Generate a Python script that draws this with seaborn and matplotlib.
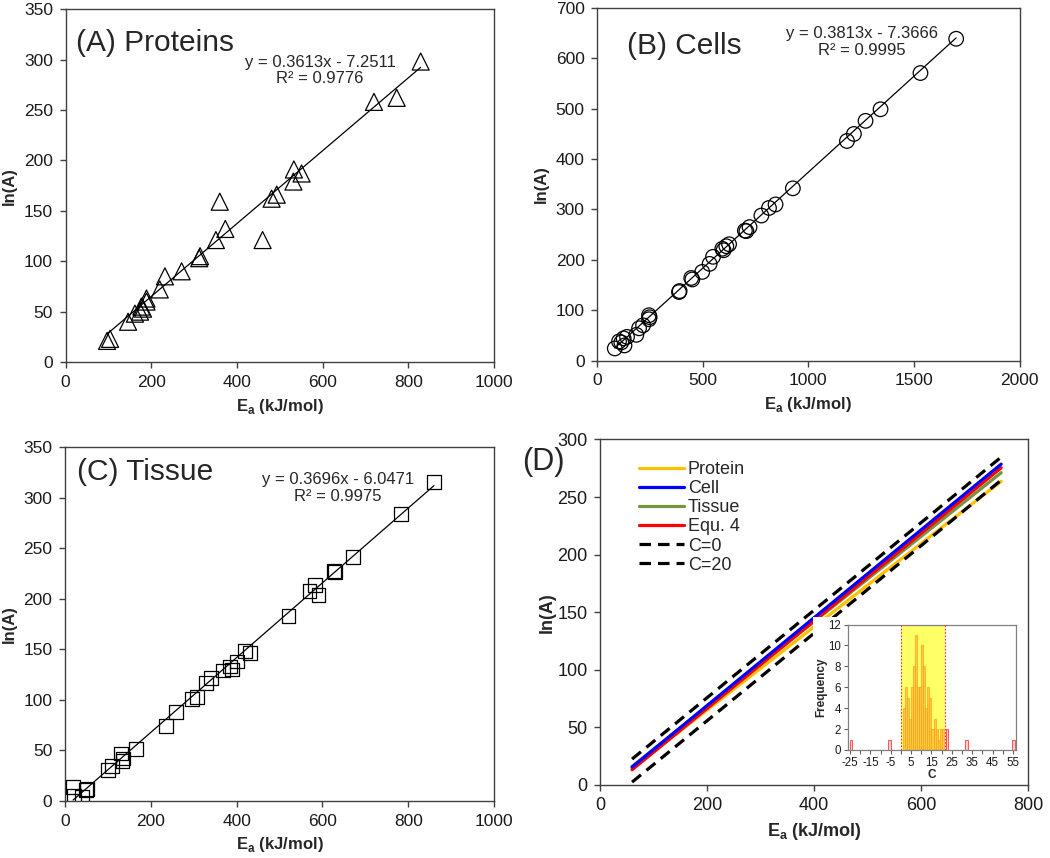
import matplotlib
matplotlib.use("Agg")
import matplotlib.pyplot as plt
import seaborn as sns
import numpy as np
from matplotlib.patches import Rectangle

# ---- (A) proteins ----
protein_ea = [97, 104, 146, 162, 174, 177, 181, 189, 189, 220, 232, 271, 312, 314,
              351, 360, 373, 460, 481, 493, 532, 533, 551, 720, 773, 829]
protein_lnA = [21, 23, 40, 48, 50, 55, 53, 60, 63, 72, 85, 90, 103, 105,
               121, 159, 132, 121, 162, 166, 179, 191, 187, 258, 262, 298]
protein_fit = (0.3613, -7.2511, 0.9776)

# ---- (B) cells ----
cell_ea = [84, 104, 115, 126, 130, 142, 186, 199, 218, 246, 249, 246, 388, 391,
           446, 451, 498, 533, 549, 593, 599, 612, 625, 700, 707, 722, 778, 814,
           845, 927, 1183, 1216, 1271, 1342, 1531, 1700]
cell_lnA = [24, 38, 36, 44, 30, 47, 51, 64, 70, 90, 86, 82, 136, 138,
            164, 161, 176, 192, 206, 222, 219, 227, 231, 258, 257, 265, 288, 303,
            310, 342, 436, 450, 476, 499, 571, 639]
cell_fit = (0.3813, -7.3666, 0.9995)

# ---- (C) tissue ----
tissue_ea = [19, 21, 39, 49, 52, 101, 109, 130, 134, 135, 165, 235, 258, 295, 307,
             329, 340, 368, 385, 390, 400, 420, 431, 521, 570, 583, 591, 628, 630,
             671, 783, 860]
tissue_lnA = [14, 5, 4, 11, 12, 31, 35, 47, 40, 42, 51, 74, 88, 101, 103,
              117, 122, 129, 133, 130, 138, 148, 146, 183, 208, 214, 204, 227, 226,
              241, 284, 315]
tissue_fit = (0.3696, -6.0471, 0.9975)

# ---- (D) model lines ----
d_range = [60, 750]
d_names = ["Protein", "Cell", "Tissue", "Equ. 4", "C=0", "C=20"]
d_slopes = [0.3613, 0.3813, 0.3696, 0.380, 0.380, 0.380]
d_icpts = [-7.2511, -7.3666, -6.0471, -9.6, -20.3, -0.3]
d_colors = ["#FFC000", "#0000FF", "#77933C", "#FF0000", "black", "black"]

# inset histogram of C
core_c = [1.5, 2.5, 3.5, 4.5, 5.5, 6.5, 7.5, 8.5, 9.5, 10.5,
          11.5, 12.5, 13.5, 14.5, 15.5, 16.5, 17.5, 18.5, 19.5, 20.5]
core_freq = [4, 6, 5, 3, 6, 8, 11, 6, 6, 10, 8, 4, 6, 5, 2, 3, 2, 1, 2, 2]
out_c = [-24.5, -5.5, 22.6, 32.0, 55.3]
out_freq = [1, 1, 2, 1, 1]
c_window = [0, 21.5]

sns.set_theme(style="ticks")
plt.rcParams["font.family"] = ["Liberation Sans", "DejaVu Sans"]
plt.rcParams["mathtext.fontset"] = "custom"
plt.rcParams["mathtext.rm"] = "Liberation Sans:bold"
plt.rcParams["mathtext.bf"] = "Liberation Sans:bold"
plt.rcParams["axes.unicode_minus"] = False
plt.rcParams["axes.edgecolor"] = "#404040"
plt.rcParams["axes.linewidth"] = 1.0
plt.rcParams["xtick.color"] = "#404040"
plt.rcParams["ytick.color"] = "#404040"
plt.rcParams["xtick.labelcolor"] = "#1a1a1a"
plt.rcParams["ytick.labelcolor"] = "#1a1a1a"

fig = plt.figure(figsize=(10.5, 8.58), dpi=100)
axA = fig.add_axes([0.0624, 0.578, 0.408, 0.4114])
axB = fig.add_axes([0.5686, 0.5798, 0.4024, 0.4108])
axC = fig.add_axes([0.0619, 0.0664, 0.4086, 0.4126])
axD = fig.add_axes([0.5714, 0.0851, 0.4076, 0.4027])


def scatter_panel(ax, ea, lnA, fit, marker, size, xticks, yticks, title, tpos, epos):
    sns.scatterplot(x=ea, y=lnA, ax=ax, marker=marker, s=size, facecolor="none",
                    edgecolor="black", linewidth=0.9, zorder=3)
    xs = np.array([min(ea), max(ea)])
    ax.plot(xs, fit[0] * xs + fit[1], color="black", lw=0.9, zorder=2)
    ax.set_xlim(xticks[0], xticks[-1])
    ax.set_ylim(yticks[0], yticks[-1])
    ax.set_xticks(xticks)
    ax.set_yticks(yticks)
    ax.tick_params(labelsize=12.5, length=4.5, width=1, pad=4.5)
    ax.set_xlabel(r"E$_\mathrm{a}$ (kJ/mol)", fontsize=12, fontweight="bold", labelpad=5)
    ax.set_ylabel("ln(A)", fontsize=12, fontweight="bold", labelpad=5)
    ax.text(tpos[0], tpos[1], title, transform=ax.transAxes, fontsize=21.5,
            ha="left", va="center")
    sign = "-" if fit[1] < 0 else "+"
    eq = f"y = {fit[0]:.4f}x {sign} {abs(fit[1]):.4f}\nR\u00b2 = {fit[2]:.4f}"
    ax.text(epos[0], epos[1], eq, transform=ax.transAxes, fontsize=12,
            ha="center", va="center", linespacing=1.15)


scatter_panel(axA, protein_ea, protein_lnA, protein_fit, "^", 150,
              np.arange(0, 1001, 200), np.arange(0, 351, 50),
              "(A) Proteins", (0.025, 0.905), (0.594, 0.826))
scatter_panel(axB, cell_ea, cell_lnA, cell_fit, "o", 110,
              np.arange(0, 2001, 500), np.arange(0, 701, 100),
              "(B) Cells", (0.071, 0.893), (0.626, 0.9035))
scatter_panel(axC, tissue_ea, tissue_lnA, tissue_fit, "s", 100,
              np.arange(0, 1001, 200), np.arange(0, 351, 50),
              "(C) Tissue", (0.028, 0.93), (0.636, 0.884))

# ---- panel D ----
xs = np.array(d_range)
draw_order = [0, 2, 3, 1, 4, 5]
handles = {}
for i in draw_order:
    if d_names[i].startswith("C="):
        h, = axD.plot(xs, d_slopes[i] * xs + d_icpts[i], color=d_colors[i], lw=2.3,
                      dashes=(3.6, 2.2), label=d_names[i])
    else:
        h, = axD.plot(xs, d_slopes[i] * xs + d_icpts[i], color=d_colors[i], lw=2.3,
                      label=d_names[i])
    handles[i] = h
axD.legend([handles[i] for i in range(6)], d_names, loc="upper left",
           bbox_to_anchor=(0.053, 0.985), frameon=False, fontsize=13,
           handlelength=2.5, handletextpad=0.2, labelspacing=0.12)
axD.set_xlim(0, 800)
axD.set_ylim(0, 300)
axD.set_xticks(np.arange(0, 801, 200))
axD.set_yticks(np.arange(0, 301, 50))
axD.tick_params(labelsize=13, length=4.5, width=1, pad=4.5)
axD.set_xlabel(r"E$_\mathrm{a}$ (kJ/mol)", fontsize=13, fontweight="bold", labelpad=5)
axD.set_ylabel("ln(A)", fontsize=13, fontweight="bold", labelpad=1)
fig.text(0.497, 0.462, "(D)", fontsize=22, ha="left", va="center")

# white backing behind the inset
axD.add_patch(Rectangle((813 / 1050, 1 - 778 / 858), 210 / 1050, 161 / 858,
                        transform=fig.transFigure, facecolor="white",
                        edgecolor="none", zorder=5, clip_on=False))

axI = fig.add_axes([848 / 1050, 1 - 750 / 858, 168 / 1050, 125.5 / 858])
axI.axvspan(c_window[0], c_window[1], color="#FFFF66", zorder=0, lw=0)
for cx in c_window:
    axI.axvline(cx, color="#FF3030", lw=0.8, ls=(0, (1.5, 1.5)), zorder=3)
axI.bar(core_c, core_freq, width=1.0, color="#FFC020", alpha=0.7,
        edgecolor="#FFA030", linewidth=0.8, zorder=2)
axI.bar(out_c, out_freq, width=1.4, color="#FFD8D8",
        edgecolor="#FF5A5A", linewidth=0.8, zorder=2)
axI.set_xlim(-26, 56.5)
axI.set_ylim(0, 12)
axI.set_xticks(np.arange(-25, 56, 10))
axI.set_xticks(np.arange(-20, 51, 10), minor=True)
axI.set_yticks(np.arange(0, 13, 2))
axI.tick_params(labelsize=8.3, length=3, width=0.8, pad=2, color="#606060")
axI.tick_params(which="minor", length=3, width=0.8, color="#606060")
for s in axI.spines.values():
    s.set_color("#808080")
    s.set_linewidth(0.9)
axI.set_xlabel("C", fontsize=8.5, fontweight="bold", labelpad=0)
axI.set_ylabel("Frequency", fontsize=8.5, fontweight="bold", labelpad=1)

fig.savefig("out.png", dpi=100)
